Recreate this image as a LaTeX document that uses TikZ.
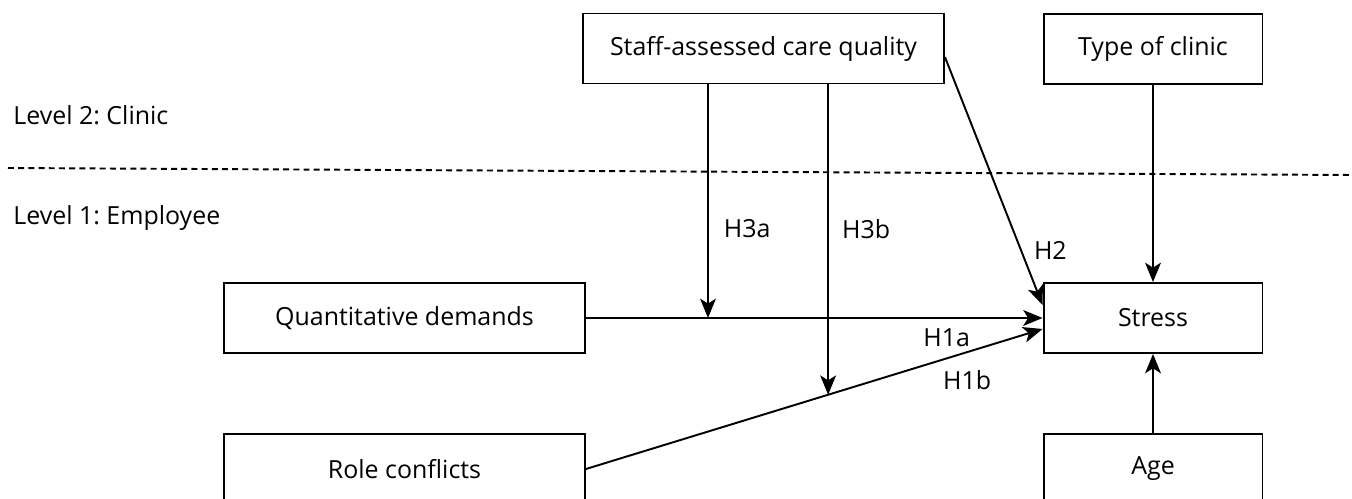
\documentclass[tikz,border=0pt]{standalone}
\usepackage{fontspec}
\setmainfont{Open Sans}
\frenchspacing
\usetikzlibrary{arrows.meta, positioning, calc}
\tikzset{
    varBox/.style={draw, line width=1.1pt, rectangle, inner sep=0pt,
        minimum height=1.4cm},
    wideBox/.style={varBox, minimum width=7.22cm},
    narrowBox/.style={varBox, minimum width=4.38cm},
    pathArrow/.style={line width=1.1pt, -{Stealth[length=11pt, width=9pt, inset=2.8pt]}},
    levelLine/.style={line width=1.1pt, dash pattern=on 3.4pt off 2.4pt},
    hypLabel/.style={inner sep=0pt},
}

\begin{document}
\begin{tikzpicture}[x=0.02cm, y=-0.02cm, font=\fontsize{14.2}{16}\selectfont]
    \useasboundingbox (0,0) rectangle (1352,499);

    % Levels
    \draw[levelLine] (8,168) -- (1352,175);
    \node[anchor=west, inner sep=0pt] (lvlClinic) at (13,115) {Level 2: Clinic};
    \node[anchor=west, inner sep=0pt] (lvlEmployee) at (13,218) {Level 1: Employee};

    % Variables
    \node[wideBox] (careQuality) at (763.5,48.5) {Staff-assessed care quality};
    \node[narrowBox] (clinicType) at (1153,49) {Type of clinic};
    \node[wideBox] (quantDemands) at (404.5,318) {Quantitative demands};
    \node[wideBox] (roleConflicts) at (404.5,469) {Role conflicts};
    \node[narrowBox] (stress) at (1153,318) {Stress};
    \node[narrowBox] (age) at (1153,469) {Age};

    % Ends on the stress box and on the main paths
    \coordinate (h2End) at ([yshift=0.26cm]stress.west);
    \coordinate (h1bEnd) at ([yshift=-0.22cm]stress.west);
    \coordinate (modA) at (708,318);
    \coordinate (modB) at ($(roleConflicts.east)!0.5304!(h1bEnd)$);

    % Main effects
    \draw[pathArrow] (quantDemands.east) -- (stress.west)
        node[hypLabel, pos=0.79, below=0.2cm] {H1a};
    \draw[pathArrow] (roleConflicts.east) -- (h1bEnd)
        node[hypLabel, pos=0.835, below=0.35cm] {H1b};
    \draw[pathArrow] ([yshift=-0.17cm]careQuality.east) -- (h2End)
        node[hypLabel, pos=0.78, right=0.24cm] {H2};

    % Moderation
    \draw[pathArrow] (careQuality.south -| modA) -- (modA)
        node[hypLabel, pos=0.617, right=0.3cm] {H3a};
    \draw[pathArrow] (careQuality.south -| modB) -- (modB)
        node[hypLabel, pos=0.465, right=0.26cm] {H3b};

    % Controls
    \draw[pathArrow] (clinicType.south) -- (stress.north);
    \draw[pathArrow] (age.north) -- (stress.south);

\end{tikzpicture}
\end{document}
